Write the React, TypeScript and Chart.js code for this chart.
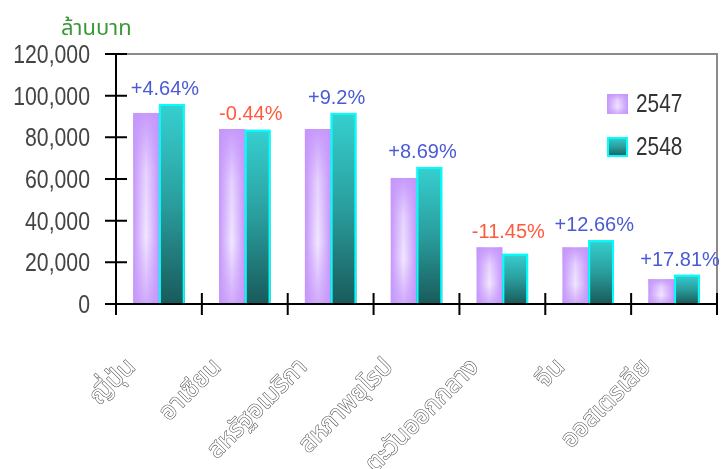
import { useEffect, useRef } from 'react';
import { Chart, registerables } from 'chart.js';

Chart.register(...registerables);

// Export value by market, million baht
const regions = ['ญี่ปุ่น', 'อาเซียน', 'สหรัฐอเมริกา', 'สหภาพยุโรป', 'ตะวันออกกลาง', 'จีน', 'ออสเตรเลีย'];
const years = ['2547', '2548'];
const exports2547 = [91700, 84000, 84000, 60500, 27200, 27200, 11900];
const exports2548 = [95950, 83630, 91730, 65760, 24090, 30640, 14020];
const growthLabels = ['+4.64%', '-0.44%', '+9.2%', '+8.69%', '-11.45%', '+12.66%', '+17.81%'];
const yMax = 120000;
const yStep = 20000;
const unitTitle = 'ล้านบาท';

const SANS = "'Liberation Sans', Arial, sans-serif";
const THAI = "'Noto Sans Thai', 'Loma', 'Garuda', 'Norasi', 'Tlwg Typo', sans-serif";

function fillPurple(ctx: CanvasRenderingContext2D, left: number, top: number, w: number, h: number) {
  const hg = ctx.createLinearGradient(left, 0, left + w, 0);
  hg.addColorStop(0, '#c596fb');
  hg.addColorStop(0.5, '#f1e7ff');
  hg.addColorStop(1, '#c596fb');
  ctx.fillStyle = hg;
  ctx.fillRect(left, top, w, h);
  const vg = ctx.createLinearGradient(0, top, 0, top + h);
  vg.addColorStop(0, 'rgba(197,150,251,0.95)');
  vg.addColorStop(0.3, 'rgba(197,150,251,0.25)');
  vg.addColorStop(0.65, 'rgba(197,150,251,0)');
  vg.addColorStop(1, 'rgba(197,150,251,0.75)');
  ctx.fillStyle = vg;
  ctx.fillRect(left, top, w, h);
}

function fillTeal(ctx: CanvasRenderingContext2D, left: number, top: number, w: number, h: number, outline = true) {
  const g = ctx.createLinearGradient(0, top, 0, top + h);
  g.addColorStop(0, '#36d0d0');
  g.addColorStop(0.5, '#2a9d9d');
  g.addColorStop(1, '#195a5a');
  ctx.fillStyle = g;
  ctx.fillRect(left, top, w, h);
  if (outline) {
    ctx.strokeStyle = '#00ffff';
    ctx.lineWidth = 2;
    ctx.beginPath();
    ctx.moveTo(left + 1, top + h);
    ctx.lineTo(left + 1, top + 1);
    ctx.lineTo(left + w - 1, top + 1);
    ctx.lineTo(left + w - 1, top + h);
    ctx.stroke();
  }
}

// text drawn horizontally condensed, like a narrow face
function narrowText(
  ctx: CanvasRenderingContext2D, txt: string, x: number, y: number,
  size: number, align: CanvasTextAlign, squeeze: number,
) {
  ctx.save();
  ctx.translate(x, y);
  ctx.scale(squeeze, 1);
  ctx.font = `${size}px ${SANS}`;
  ctx.textAlign = align;
  ctx.textBaseline = 'middle';
  ctx.fillText(txt, 0, 0);
  ctx.restore();
}

const barPainter = {
  id: 'barPainter',
  afterDatasetsDraw(chart: any) {
    const ctx = chart.ctx as CanvasRenderingContext2D;
    ctx.save();
    chart.data.datasets.forEach((_ds: any, di: number) => {
      const meta = chart.getDatasetMeta(di);
      meta.data.forEach((el: any) => {
        const { x, y, base, width } = el.getProps(['x', 'y', 'base', 'width'], true);
        const left = x - width / 2;
        const h = base - y;
        if (di === 0) fillPurple(ctx, left, y, width, h);
        else fillTeal(ctx, left, y, width, h);
      });
    });
    ctx.restore();
  },
};

const frame = {
  id: 'frame',
  afterDraw(chart: any) {
    const ctx = chart.ctx as CanvasRenderingContext2D;
    const { left, right, top, bottom } = chart.chartArea;
    const xs = chart.scales.x;
    const ys = chart.scales.y;
    ctx.save();

    // plot box: grey top / right edges
    ctx.strokeStyle = '#8a8a8a';
    ctx.lineWidth = 2;
    ctx.beginPath();
    ctx.moveTo(left, top);
    ctx.lineTo(right, top);
    ctx.lineTo(right, bottom);
    ctx.stroke();

    // black axes with crossing tick marks
    ctx.strokeStyle = '#000';
    ctx.lineWidth = 2;
    ctx.beginPath();
    ctx.moveTo(left, top);
    ctx.lineTo(left, bottom);
    ctx.moveTo(left - 11, bottom);
    ctx.lineTo(right, bottom);
    for (let v = 0; v <= yMax; v += yStep) {
      const py = ys.getPixelForValue(v);
      ctx.moveTo(left - 11, py);
      ctx.lineTo(left + 11, py);
    }
    for (let i = 0; i <= regions.length; i++) {
      const px = xs.getPixelForValue(i - 0.5);
      ctx.moveTo(px, bottom - 11);
      ctx.lineTo(px, bottom + 11);
    }
    ctx.stroke();

    // value axis labels
    ctx.fillStyle = '#444';
    for (let v = 0; v <= yMax; v += yStep) {
      const py = ys.getPixelForValue(v);
      narrowText(ctx, v.toLocaleString('en-US'), left - 26, py + 2, 25, 'right', 0.85);
    }

    // growth labels above each pair of bars
    const m0 = chart.getDatasetMeta(0).data;
    const m1 = chart.getDatasetMeta(1).data;
    ctx.font = `20px ${SANS}`;
    ctx.textAlign = 'center';
    ctx.textBaseline = 'alphabetic';
    growthLabels.forEach((txt, i) => {
      const a = m0[i];
      const b = m1[i];
      const topY = Math.min(a.y, b.y);
      const cx = (a.x + b.x) / 2 + 6;
      ctx.fillStyle = txt.startsWith('-') ? '#ff5a3c' : '#4a5ad6';
      ctx.fillText(txt, cx, topY - 9);
    });

    // legend inside the plot box
    const lx = right - 110;
    const ly = top + 40;
    fillPurple(ctx, lx, ly, 21, 20);
    fillTeal(ctx, lx, ly + 43, 21, 20, false);
    ctx.strokeStyle = '#00ffff';
    ctx.lineWidth = 2;
    ctx.strokeRect(lx + 1, ly + 44, 19, 18);
    ctx.fillStyle = '#333';
    narrowText(ctx, years[0], lx + 29, ly + 11, 26, 'left', 0.8);
    narrowText(ctx, years[1], lx + 29, ly + 54, 26, 'left', 0.8);

    // unit title
    ctx.fillStyle = '#3a983a';
    ctx.font = `22px ${THAI}`;
    ctx.textAlign = 'left';
    ctx.textBaseline = 'alphabetic';
    ctx.fillText(unitTitle, 61, 35);

    ctx.restore();
  },
};

export default function App() {
  const canvasRef = useRef<HTMLCanvasElement | null>(null);

  useEffect(() => {
    const canvas = canvasRef.current;
    if (!canvas) return;
    const chart = new Chart(canvas, {
      type: 'bar',
      data: {
        labels: regions,
        datasets: [
          { label: years[0], data: exports2547, backgroundColor: 'rgba(0,0,0,0)', borderWidth: 0 },
          { label: years[1], data: exports2548, backgroundColor: 'rgba(0,0,0,0)', borderWidth: 0 },
        ],
      },
      options: {
        responsive: false,
        animation: false,
        events: [],
        layout: { padding: { top: 54, right: 6, left: 0, bottom: 0 } },
        datasets: { bar: { categoryPercentage: 0.6, barPercentage: 1.0 } },
        plugins: {
          legend: { display: false },
          tooltip: { enabled: false },
          title: { display: false },
        },
        scales: {
          x: {
            offset: true,
            grid: { display: false, drawTicks: false, tickLength: 0 },
            border: { display: false },
            ticks: {
              autoSkip: false,
              minRotation: 45,
              maxRotation: 45,
              labelOffset: -26,
              padding: 50,
              color: '#ffffff',
              textStrokeColor: '#505050',
              textStrokeWidth: 1.1,
              font: { family: THAI, size: 25 },
            },
            afterFit(scale: any) {
              scale.height = 165;
              scale.paddingLeft = 0;
              scale.paddingRight = 0;
            },
          },
          y: {
            min: 0,
            max: yMax,
            grid: { display: false, drawTicks: false, tickLength: 0 },
            border: { display: false },
            ticks: { display: false, stepSize: yStep },
            afterFit(scale: any) {
              scale.width = 116;
              scale.paddingTop = 0;
              scale.paddingBottom = 0;
            },
          },
        },
      },
      plugins: [barPainter, frame],
    });
    return () => chart.destroy();
  }, []);

  return (
    <div style={{ position: 'fixed', left: 0, top: 0, width: 723, height: 469, background: '#fff' }}>
      <canvas ref={canvasRef} width={723} height={469} style={{ width: 723, height: 469, display: 'block' }} />
    </div>
  );
}
